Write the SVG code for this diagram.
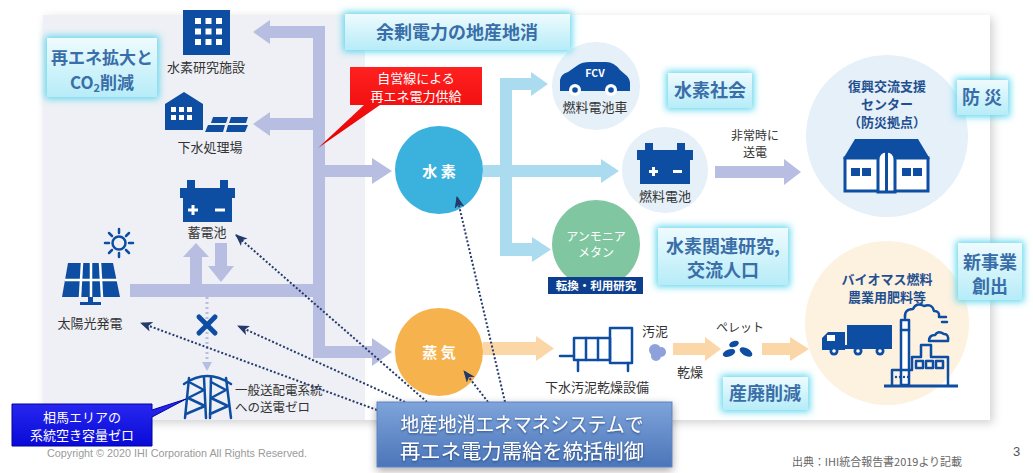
<svg xmlns="http://www.w3.org/2000/svg" width="1033" height="473" viewBox="0 0 1033 473">
<defs>
<style>
.lbl{font-family:"Noto Sans CJK JP","Noto Sans",sans-serif;font-size:13px;fill:#333;text-anchor:middle}
.lbs{font-family:"Noto Sans CJK JP","Noto Sans",sans-serif;font-size:12.5px;fill:#333;text-anchor:start}
.lbl.sm{font-size:12px}
.ctr{font-family:"Noto Sans CJK JP","Noto Sans",sans-serif;font-size:13px;font-weight:700;fill:#1f4f8f;text-anchor:middle}
.tag{font-family:"Noto Sans CJK JP","Noto Sans",sans-serif;font-size:18px;font-weight:700;fill:#3a6ea8;text-anchor:middle}
.tag.s17{font-size:17px}
.tagbox{fill:url(#tagFill);filter:url(#glow)}
.wt{font-family:"Noto Sans CJK JP","Noto Sans",sans-serif;fill:#fff;text-anchor:middle}
.ic{fill:#0d4ea3}
.ics{fill:none;stroke:#0d4ea3;stroke-width:2.5;stroke-linejoin:round;stroke-linecap:round}
.icw{fill:#fff}
.lav{fill:#b7bee1}
.sky{fill:#aadbef}
.org{fill:#fbd6a6}
.dot{fill:none;stroke:#243a6b;stroke-width:2;stroke-dasharray:2 2}
.soft{fill:#e6f0f8}
</style>
<linearGradient id="tagFill" x1="0" y1="0" x2="0" y2="1">
<stop offset="0" stop-color="#eefbfe"/>
<stop offset="1" stop-color="#b6ecf8"/>
</linearGradient>
<linearGradient id="redFill" x1="0" y1="0" x2="0" y2="1">
<stop offset="0" stop-color="#ff2020"/>
<stop offset="1" stop-color="#e40000"/>
</linearGradient>
<linearGradient id="blueFill" x1="0" y1="0" x2="0" y2="1">
<stop offset="0" stop-color="#2a2af2"/>
<stop offset="1" stop-color="#0a0ad8"/>
</linearGradient>
<linearGradient id="sysFill" x1="0" y1="0" x2="0" y2="1">
<stop offset="0" stop-color="#7fa4da"/>
<stop offset="1" stop-color="#4b75b9"/>
</linearGradient>
<filter id="glow" x="-30%" y="-40%" width="160%" height="180%">
<feMorphology in="SourceAlpha" operator="dilate" radius="2" result="d"/>
<feGaussianBlur in="d" stdDeviation="3.5" result="b"/>
<feFlood flood-color="#4fd3ec" flood-opacity="0.9"/>
<feComposite in2="b" operator="in" result="g"/>
<feMerge><feMergeNode in="g"/><feMergeNode in="SourceGraphic"/></feMerge>
</filter>
<filter id="panelShadow" x="-5%" y="-5%" width="110%" height="115%">
<feDropShadow dx="3" dy="3" stdDeviation="5" flood-color="#000" flood-opacity="0.18"/>
</filter>
<filter id="boxShadow" x="-10%" y="-20%" width="120%" height="150%">
<feDropShadow dx="0" dy="3" stdDeviation="4" flood-color="#000" flood-opacity="0.35"/>
</filter>
<filter id="txtShadow" x="-5%" y="-20%" width="110%" height="140%">
<feDropShadow dx="0" dy="1" stdDeviation="0.8" flood-color="#1c3a70" flood-opacity="0.8"/>
</filter>
<marker id="ah" viewBox="0 0 12 10" refX="11" refY="5" markerWidth="12" markerHeight="10" markerUnits="userSpaceOnUse" orient="auto">
<path d="M0,0 L12,5 L0,10 L3,5 z" fill="#24396a"/>
</marker>
</defs>

<rect width="1033" height="473" fill="#fff"/>

<!-- slide panel: grey supply side, white demand side -->
<g id="panel">
<rect x="43" y="15" width="947" height="405" fill="#fff" filter="url(#panelShadow)"/>
<rect x="43" y="15" width="322" height="405" fill="#eef0f5"/>
</g>

<!-- hydrogen research facility -->
<g id="h2-lab">
<rect class="ic" x="183" y="10" width="47" height="45"/>
<g class="icw">
<rect x="195" y="18" width="6" height="6"/><rect x="205.5" y="18" width="6" height="6"/><rect x="216" y="18" width="6" height="6"/>
<rect x="195" y="28.5" width="6" height="6"/><rect x="205.5" y="28.5" width="6" height="6"/><rect x="216" y="28.5" width="6" height="6"/>
<rect x="195" y="39" width="6" height="6"/><rect x="205.5" y="39" width="6" height="6"/><rect x="216" y="39" width="6" height="6"/>
</g>
<text class="lbl" x="206" y="72">水素研究施設</text>
</g>

<!-- sewage treatment plant -->
<g id="sewage-plant">
<polygon class="ic" points="165,130 165,104 184,92 203,104 203,130"/>
<g class="icw">
<rect x="171" y="107" width="5" height="5"/><rect x="179" y="107" width="5" height="5"/><rect x="187" y="107" width="5" height="5"/>
<rect x="171" y="115" width="5" height="5"/><rect x="179" y="115" width="5" height="5"/><rect x="187" y="115" width="5" height="5"/>
</g>
<polygon class="ic" points="213,117 228,117 226,123 211,123"/>
<polygon class="ic" points="231,117 248,117 246,123 229,123"/>
<polygon class="ic" points="208,125 225,125 223,132 205,132"/>
<polygon class="ic" points="228,125 248,125 245,132 226,132"/>
<text class="lbl" x="210" y="152">下水処理場</text>
</g>

<!-- storage battery -->
<g id="storage-battery">
<rect class="ic" x="187" y="180" width="8" height="9"/>
<rect class="ic" x="220" y="180" width="8" height="9"/>
<rect class="ic" x="180" y="188" width="55" height="10"/>
<rect class="ic" x="183" y="197" width="49" height="25"/>
<rect class="icw" x="188" y="208.5" width="10" height="3"/>
<rect class="icw" x="191.5" y="205" width="3" height="10"/>
<rect class="icw" x="215" y="208.5" width="10" height="3"/>
<text class="lbl" x="207" y="237">蓄電池</text>
</g>

<!-- solar power -->
<g id="solar">
<circle cx="119" cy="243" r="6.5" class="ics" stroke-width="3"/>
<g class="ics" stroke-width="3">
<line x1="119" y1="233" x2="119" y2="229"/><line x1="119" y1="253" x2="119" y2="257"/>
<line x1="109" y1="243" x2="105" y2="243"/><line x1="129" y1="243" x2="133" y2="243"/>
<line x1="112" y1="236" x2="109" y2="233"/><line x1="126" y1="250" x2="129" y2="253"/>
<line x1="126" y1="236" x2="129" y2="233"/><line x1="112" y1="250" x2="109" y2="253"/>
</g>
<polygon class="ic" points="68,263 113,263 120,297 62,297"/>
<g stroke="#fff" stroke-width="2.5">
<line x1="82" y1="263" x2="80" y2="297"/>
<line x1="91" y1="263" x2="91" y2="297"/>
<line x1="100" y1="263" x2="102" y2="297"/>
<line x1="65" y1="280" x2="117" y2="280"/>
</g>
<rect class="ic" x="88" y="297" width="5" height="6"/>
<rect class="ic" x="80" y="302" width="21" height="3"/>
<text class="lbl" x="90" y="328">太陽光発電</text>
</g>

<!-- blocked grid link -->
<g id="grid-cut">
<line x1="207" y1="297" x2="207" y2="362" stroke="#b7bee1" stroke-width="3" stroke-dasharray="2 3"/>
<polygon class="lav" points="202,362 212,362 207,371"/>
<g stroke="#0d4ea3" stroke-width="5" stroke-linecap="round">
<line x1="199" y1="317" x2="215" y2="333"/>
<line x1="215" y1="317" x2="199" y2="333"/>
</g>
</g>

<!-- transmission tower -->
<g id="tower">
<g class="ics" stroke-width="2.5">
<path d="M184,384 Q207,368 231,384"/>
<path d="M189,378 L185,418 M204,378 L206,418"/>
<path d="M189,382 L204,390 L188,398 L205,406 L186,414"/>
<path d="M211,378 L210,418 M226,378 L231,418"/>
<path d="M211,382 L226,390 L211,398 L228,406 L210,414"/>
</g>
<text class="lbs" x="235" y="395">一般送配電系統</text>
<text class="lbs" x="235" y="412">への送電ゼロ</text>
</g>

<!-- hydrogen hub -->
<g id="hydrogen">
<circle cx="439" cy="170" r="44" fill="#3bb2dd"/>
<text class="wt" x="439" y="177" font-size="15" font-weight="700">水 素</text>
</g>

<!-- steam hub -->
<g id="steam">
<circle cx="439" cy="352" r="44" fill="#f6b34d"/>
<text class="wt" x="439" y="358" font-size="15" font-weight="700">蒸 気</text>
</g>

<!-- fuel cell vehicle -->
<g id="fcv">
<circle class="soft" cx="596" cy="86" r="44"/>
<path class="ic" d="M560,91 V80 Q561,74 568,72 L578,65 Q582,62 590,62 H606 Q614,62 620,70 L627,76 Q630,79 630,84 V91 Z"/>
<circle class="icw" cx="575" cy="90" r="6"/><circle class="ic" cx="575" cy="90" r="2.8"/>
<circle class="icw" cx="611" cy="90" r="6"/><circle class="ic" cx="611" cy="90" r="2.8"/>
<text class="wt" x="595" y="77" font-size="10.5" font-weight="700">FCV</text>
<text class="lbl" x="595" y="112">燃料電池車</text>
</g>

<!-- fuel cell -->
<g id="fuel-cell">
<circle class="soft" cx="665" cy="170" r="43"/>
<rect class="ic" x="645" y="143" width="8" height="8"/>
<rect class="ic" x="677" y="143" width="8" height="8"/>
<rect class="ic" x="637" y="150" width="56" height="10"/>
<rect class="ic" x="640" y="159" width="50" height="25"/>
<rect class="icw" x="649" y="170" width="9" height="3"/>
<rect class="icw" x="652" y="167" width="3" height="9"/>
<rect class="icw" x="673" y="170" width="9" height="3"/>
<text class="lbl" x="665" y="201">燃料電池</text>
</g>

<!-- ammonia / methane -->
<g id="ammonia">
<circle cx="596" cy="244" r="44" fill="#80c6a1"/>
<text class="wt" x="596" y="241" font-size="12">アンモニア</text>
<text class="wt" x="596" y="257" font-size="12">メタン</text>
<rect x="548" y="277" width="95" height="17" fill="#0d3f8f"/>
<text class="wt" x="596" y="290" font-size="11.5" font-weight="700">転換・利用研究</text>
</g>

<!-- disaster support centre -->
<g id="support-center">
<circle cx="887" cy="136" r="81" fill="#e5f0f9"/>
<text class="ctr" x="887" y="91">復興交流支援</text>
<text class="ctr" x="887" y="109">センター</text>
<text class="ctr" x="887" y="127">（防災拠点）</text>
<polygon class="ic" points="843,159 855,139 918,139 930,159"/>
<rect x="845" y="158" width="83" height="33" fill="#fff" stroke="#0d4ea3" stroke-width="3"/>
<rect class="ic" x="851" y="168" width="9" height="8"/><rect class="ic" x="862" y="168" width="9" height="8"/>
<rect class="ic" x="902" y="168" width="9" height="8"/><rect class="ic" x="913" y="168" width="9" height="8"/>
<path d="M878,192 V160 Q878,151 886.5,151 Q895,151 895,160 V192 Z" fill="#fff" stroke="#0d4ea3" stroke-width="3"/>
<line x1="886.5" y1="151" x2="886.5" y2="192" stroke="#0d4ea3" stroke-width="3"/>
</g>

<!-- biomass products -->
<g id="biomass">
<circle cx="887" cy="323" r="82" fill="#fdf1e0"/>
<text class="ctr" x="887" y="284">バイオマス燃料</text>
<text class="ctr" x="887" y="302">農業用肥料等</text>
<rect class="ic" x="847" y="325" width="45" height="22"/>
<path class="ic" d="M822,350 V338 L828,332 H845 V350 Z"/>
<rect class="icw" x="827" y="335" width="8" height="6"/>
<rect class="ic" x="822" y="345" width="70" height="4"/>
<circle class="ic" cx="834" cy="351" r="4.5"/><circle class="icw" cx="834" cy="351" r="1.8"/>
<circle class="ic" cx="858" cy="351" r="4.5"/><circle class="icw" cx="858" cy="351" r="1.8"/>
<circle class="ic" cx="880" cy="351" r="4.5"/><circle class="icw" cx="880" cy="351" r="1.8"/>
<g class="ics">
<rect x="901" y="320" width="8" height="65" fill="#fff"/>
<line x1="901" y1="330" x2="909" y2="330"/>
<path d="M905,318 q-1,-9 8,-9 q3,-7 11,-3 q8,-3 10,5 q6,0 5,6"/>
<path d="M929,341 q0,-6 6,-6 q3,-5 9,-1 q5,0 4,7 Z"/>
<line x1="940" y1="317" x2="946" y2="317"/><line x1="942" y1="322" x2="947" y2="322"/>
<path d="M892,385 V370 H912 V357 H921 V345 H931 V357 H948 V385"/>
<rect x="916" y="361" width="7" height="7"/><rect x="926" y="361" width="7" height="7"/><rect x="936" y="361" width="7" height="7"/>
</g>
<g class="ic"><circle cx="896" cy="377" r="1.2"/><circle cx="900" cy="377" r="1.2"/><circle cx="904" cy="377" r="1.2"/><circle cx="908" cy="377" r="1.2"/></g>
<line x1="884" y1="386" x2="958" y2="386" stroke="#0d4ea3" stroke-width="3"/>
</g>

<!-- sludge dryer -->
<g id="dryer">
<g class="ics" stroke-width="4" stroke-linecap="butt">
<path d="M560,356 H574"/>
<rect x="574" y="338" width="36" height="22"/>
<line x1="586" y1="338" x2="586" y2="360"/>
<line x1="598" y1="338" x2="598" y2="360"/>
<rect x="610" y="328" width="22" height="35"/>
<line x1="578" y1="360" x2="578" y2="371"/>
<line x1="628" y1="363" x2="628" y2="371"/>
</g>
<text class="lbl" x="597" y="392">下水汚泥乾燥設備</text>
</g>

<!-- sludge and pellets -->
<g id="sludge">
<g fill="#8fa1da"><circle cx="655" cy="350" r="6"/><circle cx="661" cy="352" r="5"/><circle cx="656" cy="356" r="5"/></g>
<text class="lbl" x="655" y="336">汚泥</text>
<text class="lbl" x="690" y="377">乾燥</text>
</g>
<g id="pellet">
<g class="ic">
<ellipse cx="734" cy="344" rx="5" ry="3" transform="rotate(-20 734 344)"/>
<ellipse cx="729" cy="353" rx="6.5" ry="3.5" transform="rotate(-20 729 353)"/>
<ellipse cx="746" cy="352" rx="7" ry="3.8" transform="rotate(30 746 352)"/>
</g>
<text class="lbl sm" x="740" y="332">ペレット</text>
</g>

<!-- goal tags -->
<g id="tag-co2">
<rect class="tagbox" x="47" y="38" width="110" height="59"/>
<text class="tag s17" x="102" y="64">再エネ拡大と</text>
<text class="tag s17" x="102" y="89">CO<tspan font-size="11" dy="3">2</tspan><tspan dy="-3">削減</tspan></text>
</g>
<g id="tag-local">
<rect class="tagbox" x="345" y="14" width="225" height="36"/>
<text class="tag" x="457" y="39">余剰電力の地産地消</text>
</g>
<g id="tag-h2society">
<rect class="tagbox" x="668" y="73" width="84" height="35"/>
<text class="tag" x="710" y="97">水素社会</text>
</g>
<g id="tag-disaster">
<rect class="tagbox" x="957" y="80" width="51" height="35"/>
<text class="tag" x="982" y="104">防 災</text>
</g>
<g id="tag-research">
<rect class="tagbox" x="658" y="228" width="130" height="57"/>
<text class="tag" x="723" y="253">水素関連研究,</text>
<text class="tag" x="723" y="277">交流人口</text>
</g>
<g id="tag-business">
<rect class="tagbox" x="958" y="243" width="64" height="57"/>
<text class="tag" x="990" y="269">新事業</text>
<text class="tag" x="990" y="293">創出</text>
</g>
<g id="tag-waste">
<rect class="tagbox" x="723" y="377" width="85" height="33"/>
<text class="tag" x="765" y="400">産廃削減</text>
</g>

<!-- flows and control links -->
<g id="connectors">
<g class="lav">
<rect x="313" y="26" width="12" height="332"/>
<rect x="269" y="26" width="56" height="12"/><polygon points="270,20 253,32 270,44"/>
<rect x="269" y="118" width="46" height="12"/><polygon points="270,112 253,124 270,136"/>
<rect x="325" y="165" width="48" height="12"/><polygon points="372,158 392,171 372,184"/>
<rect x="130" y="284" width="185" height="13"/>
<rect x="190" y="256" width="12" height="29"/><polygon points="183,257 196,243 209,257"/>
<rect x="215" y="243" width="12" height="24"/><polygon points="208,266 221,282 234,266"/>
<rect x="313" y="346" width="60" height="12"/><polygon points="372,338 392,352 372,366"/>
<rect x="715" y="166" width="70" height="12"/><polygon points="784,159 801,172 784,185"/>
</g>
<g class="sky">
<rect x="483" y="165" width="119" height="12"/><polygon points="601,159 619,171 601,183"/>
<rect x="500" y="78" width="12" height="178"/>
<rect x="500" y="78" width="32" height="12"/><polygon points="531,72 548,84 531,96"/>
<rect x="500" y="243" width="33" height="13"/><polygon points="532,237 551,249.5 532,262"/>
</g>
<g class="org">
<rect x="483" y="342" width="54" height="13"/><polygon points="536,336 554,348.5 536,361"/>
<rect x="673" y="343" width="33" height="12"/><polygon points="705,337 721,349 705,361"/>
<rect x="762" y="343" width="30" height="12"/><polygon points="790,337 809,349 790,361"/>
</g>
<text class="lbl sm" x="755" y="140">非常時に</text>
<text class="lbl sm" x="755" y="157">送電</text>
<g class="dot">
<line x1="427" y1="402" x2="236" y2="235" marker-end="url(#ah)"/>
<line x1="405" y1="402" x2="238" y2="326" marker-end="url(#ah)"/>
<line x1="377" y1="410" x2="141" y2="323" marker-end="url(#ah)"/>
<line x1="505" y1="402" x2="457" y2="197" marker-end="url(#ah)"/>
<line x1="488" y1="402" x2="464" y2="371" marker-end="url(#ah)"/>
</g>
</g>

<!-- callouts -->
<g id="callout-private-line">
<path d="M350,67 H482 V105 H380 L318,148 L364,105 H350 Z" fill="url(#redFill)"/>
<text class="wt" x="416" y="83" font-size="13">自営線による</text>
<text class="wt" x="416" y="101" font-size="13">再エネ電力供給</text>
</g>
<g id="callout-grid">
<path d="M12,404 H152 V410 L186,399 L152,417 V446 H12 Z" fill="url(#blueFill)" stroke="#0000a0" stroke-width="1"/>
<text class="wt" x="82" y="422" font-size="13">相馬エリアの</text>
<text class="wt" x="82" y="440" font-size="13">系統空き容量ゼロ</text>
</g>
<g id="ems">
<rect x="377" y="402" width="295" height="65" fill="url(#sysFill)" stroke="#5d82c2" stroke-width="1" filter="url(#boxShadow)"/>
<g filter="url(#txtShadow)">
<text class="wt" x="522" y="432" font-size="20" textLength="243" lengthAdjust="spacingAndGlyphs">地産地消エネマネシステムで</text>
<text class="wt" x="522" y="459" font-size="20" textLength="244" lengthAdjust="spacingAndGlyphs">再エネ電力需給を統括制御</text>
</g>
</g>

<!-- footer -->
<g id="footer">
<text x="47" y="457" font-family="Liberation Sans, Arial, sans-serif" font-size="11" fill="#9a9a9a" textLength="260" lengthAdjust="spacingAndGlyphs">Copyright © 2020 IHI Corporation  All Rights Reserved.</text>
<text x="792" y="466" font-family="Noto Sans CJK JP, sans-serif" font-size="11" fill="#666" textLength="170" lengthAdjust="spacingAndGlyphs">出典：IHI統合報告書2019より記載</text>
<text x="1013" y="456" font-family="Liberation Sans, Arial, sans-serif" font-size="13" fill="#555">3</text>
</g>
</svg>
